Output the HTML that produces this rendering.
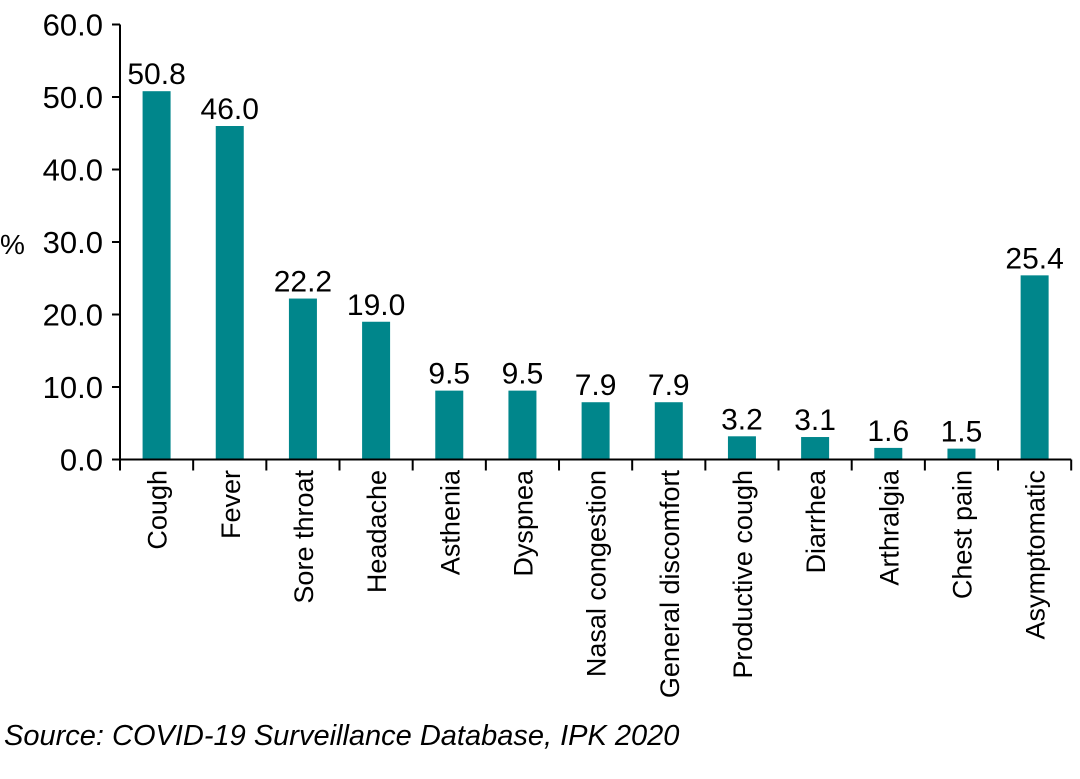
<!DOCTYPE html>
<html><head><meta charset="utf-8"><style>
body{margin:0;background:#fff}
svg text{font-family:"Liberation Sans",Arial,sans-serif;fill:#000}
</style></head><body>
<svg id="c" width="1080" height="774" xmlns="http://www.w3.org/2000/svg">
<text x="0" y="254" font-size="28">%</text>
<text x="4" y="745" font-size="29" font-style="italic">Source: COVID-19 Surveillance Database, IPK 2020</text>
</svg>
<script>
const categories=["Cough","Fever","Sore throat","Headache","Asthenia","Dyspnea","Nasal congestion","General discomfort","Productive cough","Diarrhea","Arthralgia","Chest pain","Asymptomatic"];
const values=[50.8,46.0,22.2,19.0,9.5,9.5,7.9,7.9,3.2,3.1,1.6,1.5,25.4];
const yTicks=[0,10,20,30,40,50,60];
const svg=document.getElementById('c');
const NS="http://www.w3.org/2000/svg";
const x0=120,step=73.17,y0=459.5,pxPer=7.25;
const y=v=>y0-v*pxPer;
function mk(t,a){const e=document.createElementNS(NS,t);for(const k in a)e.setAttribute(k,a[k]);svg.appendChild(e);return e;}
categories.forEach((c,i)=>{
 const cx=x0+step*(i+0.5);
 const b=mk('rect',{x:cx-14,y:y(values[i]),width:28,height:y0-y(values[i]),fill:'#00868B'});
 
 
 const t=mk('text',{x:cx,y:y(values[i])-7,'font-size':30,'text-anchor':'middle'});
 t.textContent=values[i].toFixed(1);
 
 
 const l=mk('text',{transform:`translate(${cx+10},470) rotate(-90)`,'font-size':27,'text-anchor':'end'});
 l.textContent=c;
 
 
});
for(let i=0;i<=categories.length;i++){
 const tk=mk('line',{x1:x0+step*i,x2:x0+step*i,y1:y0,y2:y0+11,stroke:'#000','stroke-width':2});
 
 
}
yTicks.forEach(v=>{
 const tk=mk('line',{x1:112,x2:x0,y1:y(v),y2:y(v),stroke:'#000','stroke-width':2});
 
 
 const t=mk('text',{x:103,y:y(v)+11,'font-size':31,'text-anchor':'end'});
 t.textContent=v.toFixed(1);
 
 
});
const ya=mk('line',{x1:x0,x2:x0,y1:y(60),y2:y0,stroke:'#000','stroke-width':2});


const xa=mk('line',{x1:112,x2:x0+step*categories.length,y1:y0,y2:y0,stroke:'#000','stroke-width':2});


</script>
</body></html>
